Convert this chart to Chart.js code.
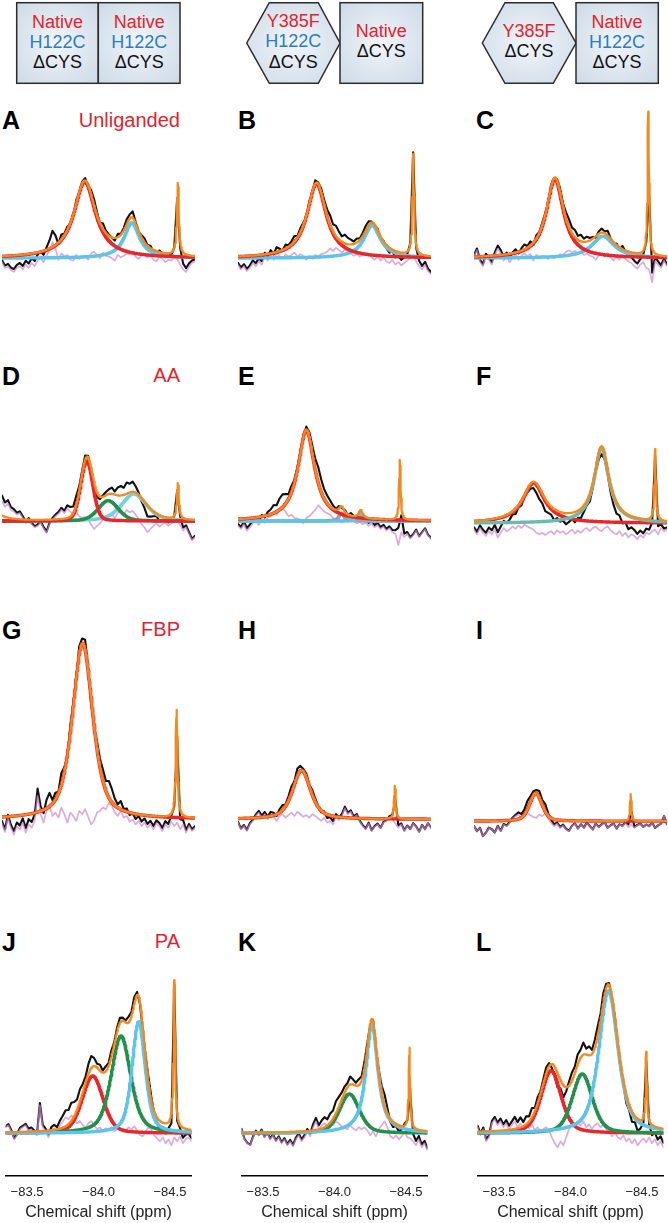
<!DOCTYPE html>
<html><head><meta charset="utf-8">
<script src="https://cdn.jsdelivr.net/npm/chart.js@4.4.1/dist/chart.umd.min.js"></script>
<style>
html,body{margin:0;padding:0;background:#fff;width:668px;height:1223px;overflow:hidden;position:relative;font-family:"Liberation Sans",Arial,Helvetica,sans-serif;}
canvas{position:absolute;}
#overlay{position:absolute;left:0;top:0;}
</style></head><body>
<svg id="overlay" width="668" height="1223" xmlns="http://www.w3.org/2000/svg">
<defs>
<radialGradient id="gb" cx="50%" cy="50%" r="65%">
<stop offset="0%" stop-color="#f1f5f9"/><stop offset="100%" stop-color="#cfdce8"/>
</radialGradient>
</defs>
<g stroke="#2b2b2b" stroke-width="1.5" fill="url(#gb)">
<rect x="16.7" y="2.7" width="81.6" height="80.6"/>
<rect x="98.3" y="2.7" width="81.7" height="80.6"/>
<polygon points="246.7,43 269.3,2.7 318.3,2.7 340,43 318.3,83.3 269.3,83.3"/>
<rect x="340" y="2.7" width="82.7" height="80.6"/>
<polygon points="482.3,43 505,2.7 553.3,2.7 576,43 553.3,83.3 505,83.3"/>
<rect x="576" y="2.7" width="82.3" height="80.6"/>
</g>
<g font-family="Liberation Sans, Arial, sans-serif" font-size="18" text-anchor="middle">
<text x="57.5" y="28" fill="#e2232c">Native</text>
<text x="57.5" y="48" fill="#2a7cc4">H122C</text>
<text x="57.5" y="67.5" fill="#111">ΔCYS</text>
<text x="139.2" y="28" fill="#e2232c">Native</text>
<text x="139.2" y="48" fill="#2a7cc4">H122C</text>
<text x="139.2" y="67.5" fill="#111">ΔCYS</text>
<text x="293.3" y="26.5" fill="#e2232c">Y385F</text>
<text x="293.3" y="47" fill="#2a7cc4">H122C</text>
<text x="293.3" y="67.5" fill="#111">ΔCYS</text>
<text x="381.3" y="36.5" fill="#e2232c">Native</text>
<text x="381.3" y="57" fill="#111">ΔCYS</text>
<text x="529" y="37" fill="#e2232c">Y385F</text>
<text x="529" y="57" fill="#111">ΔCYS</text>
<text x="617" y="28" fill="#e2232c">Native</text>
<text x="617" y="48" fill="#2a7cc4">H122C</text>
<text x="617" y="67.5" fill="#111">ΔCYS</text>
</g>
<g id="labels" font-family="Liberation Sans, Arial, sans-serif"></g>
</svg>
<script>
// ---------------- DATA ----------------
const panelLetters = ['A','B','C','D','E','F','G','H','I','J','K','L'];
const ligandLabels = ['Unliganded','AA','FBP','PA'];
const xTickValues = [-83.5, -84.0, -84.5];
const xTickLabels = ['\u221283.5', '\u221284.0', '\u221284.5'];
const xAxisTitle = 'Chemical shift (ppm)';
const ppmRange = [-83.35, -84.65];
const residualStep = 0.02;

// fitted components: [name, centre (ppm), height, half-width (ppm), lorentzian fraction]
const A_fit = [['blue',-84.224,44,0.062,1],['red',-83.907,95,0.088,1]];
const B_fit = [['blue',-84.253,40.7,0.068,1],['red',-83.879,92.7,0.078,1]];
const C_fit = [['blue',-84.218,27.4,0.09,1],['red',-83.895,98.4,0.07,1]];
const D_fit = [['hidden',-83.25,33,0.05,1],['teal',-84.238,34,0.1,0.5],['green',-84.065,25.6,0.08,0.3],['red',-83.921,75.6,0.048,0.2]];
const E_fit = [['grey',-84.047,10,0.02,1],['blue',-84.176,10,0.015,1],['red',-83.81,114.6,0.068,1]];
const F_fit = [['red',-83.751,50.6,0.088,1],['sea',-84.209,95,0.06,1]];
const G_fit = [['red',-83.893,210,0.082,0.6]];
const H_fit = [['red',-83.778,58.4,0.072,0.6]];
const I_fit = [['red',-83.766,33.4,0.05,0.4]];
const J_fit = [['red',-83.959,57.3,0.086,0.3],['green',-84.157,97.3,0.081,0.5],['blue',-84.281,111.6,0.055,0.5]];
const K_fit = [['green',-84.104,39.3,0.082,0.4],['blue',-84.262,109.3,0.05,0.9]];
const L_fit = [['red',-83.864,62.6,0.083,0.4],['green',-84.082,59.3,0.083,0.4],['blue',-84.266,142.6,0.08,0.6]];

// sharp reference line: [centre (ppm), height, half-width (ppm)]
const A_ref = [-84.534,90,0.008];
const B_ref = [-84.53,126,0.007];
const C_ref = [-84.524,179,0.006];
const D_ref = [-84.534,45.6,0.008];
const E_ref = [-84.44,75.6,0.006];
const F_ref = [-84.57,90,0.006];
const G_ref = [-84.526,128.4,0.007];
const H_ref = [-84.406,39.4,0.006];
const I_ref = [-84.405,32.4,0.005];
const J_ref = [-84.53,148,0.007];
const K_ref = [-84.524,81.6,0.006];
const L_ref = [-84.53,73,0.006];

// residuals (data - fit), every 0.02 ppm from -83.35 ppm
const A_res = [-5,-12,-10,-15,-17,-12,-10,-14,-8,-12,-6,-10,-3,0,-5,3,10,20,12,-2,6,2,4,-2,-3,4,-1,2,3,-2,6,8,4,0,7,3,2,0,-3,4,1,3,6,5,8,2,-1,3,5,1,3,-2,-4,2,-1,-5,-2,-3,0,-1,-8,-14,-17,-10,-6,-4];
const B_res = [-8,-14,-10,-16,-12,-6,-10,-4,-8,2,-3,4,-2,6,3,-1,5,2,4,7,2,5,3,-2,3,-1,4,2,5,6,8,12,9,13,10,7,11,8,6,3,5,2,4,6,5,1,-2,2,-3,1,-4,-6,-2,-8,-5,-9,-6,-3,0,2,-4,-10,-14,-8,-16,-20];
const C_res = [2,10,-4,-10,3,-2,-8,4,12,6,-3,2,-5,1,4,-2,3,6,2,5,-3,4,1,3,2,-1,3,0,2,5,4,8,10,7,9,5,8,4,6,3,2,-2,3,5,2,6,1,-3,2,-2,4,-1,-4,-6,-10,-13,-8,-5,-12,-14,-30,-4,-8,-12,-3,-10];
const D_res = [25,18,22,14,12,8,10,4,-3,2,-4,-8,-6,-2,-9,-15,-4,2,6,9,14,10,16,12,8,11,6,4,5,2,-4,-10,-6,-3,2,4,6,8,4,10,12,9,14,11,13,8,3,-4,-8,-14,-10,-6,-3,-7,-4,-2,-6,-3,-1,0,-5,-12,-8,-16,-24,-20];
const E_res = [-6,-10,-4,-12,-8,-3,0,-5,2,-2,4,6,10,8,14,16,12,6,8,4,3,2,-3,4,6,10,14,20,16,12,10,8,4,1,3,-2,2,-1,3,0,-3,-1,-4,-2,-6,-3,-8,-5,-10,-7,-12,-9,-14,-16,-30,-14,-20,-16,-22,-18,-12,-20,-15,-10,-18,-22];
const F_res = [-8,-14,-6,-12,-16,-10,-14,-8,-18,-12,-6,-10,-8,-4,-7,-3,-6,-2,-4,-6,-8,-12,-14,-12,-15,-12,-10,-14,-9,-12,-10,-14,-11,-8,-13,-9,-12,-8,-6,-10,-6,-4,-8,-10,-6,-4,-9,-12,-14,-10,-16,-12,-18,-14,-16,-20,-15,-18,-12,-14,-10,-8,-14,-6,-10,-8];
const G_res = [-5,-15,2,-10,-18,-8,-12,-4,-16,-6,-10,-2,28,6,-4,10,16,4,8,2,14,6,-4,8,4,-2,10,6,12,3,-6,-2,8,10,14,12,20,16,8,4,10,2,4,-3,0,-6,-2,-8,-4,-10,-6,-12,-5,-8,-14,-6,-10,-3,-8,-4,-12,-6,-16,-8,-14,-10];
const H_res = [-4,-12,-8,-14,-6,-2,4,8,2,6,0,5,3,-2,4,6,2,5,8,4,9,6,3,5,2,6,4,1,-2,2,-4,-2,-6,3,-1,4,13,6,9,2,5,-3,-8,-12,-5,-14,-9,-6,-11,-4,-2,2,0,-5,-10,-6,-14,-8,-12,-5,-9,-15,-7,-12,-5,-10];
const I_res = [-6,-12,-8,-18,-14,-8,-10,-14,-6,-12,-4,-6,-2,3,6,8,4,6,10,7,5,4,8,6,9,3,-2,-6,-3,-8,-5,-10,-12,-6,-3,-9,-4,-8,-2,-6,-10,-3,-7,-4,-1,-8,-5,-3,-9,-4,-6,-2,-7,-4,-8,-5,-3,-7,-4,-6,-2,-8,-5,-3,6,-4];
const J_res = [6,8,2,-6,-2,4,6,8,3,4,1,-2,28,6,2,-4,3,5,2,8,12,16,14,18,14,10,12,8,6,10,12,8,4,6,2,5,3,6,2,4,5,3,2,6,4,7,3,-2,-3,2,6,4,-2,-5,-8,-4,-10,-6,-12,-4,-8,-3,-10,-6,-4,-8];
const K_res = [4,-6,-10,-12,-4,2,-2,3,-4,0,-6,-2,-8,-4,-10,-6,-12,-8,-13,-6,-2,-8,-4,2,-3,6,12,4,8,10,6,9,8,12,10,7,6,4,8,5,3,6,4,6,3,-2,2,-3,4,8,12,6,-3,-5,-2,-6,-3,2,-4,-5,-8,-12,-6,-14,-10,-17];
const L_res = [6,-2,4,-8,-4,10,14,8,12,6,10,4,8,12,6,10,4,8,5,9,3,6,2,4,6,3,-4,-10,-14,-8,-12,-4,4,8,6,10,8,12,6,9,4,8,10,6,9,4,2,-3,2,-4,-6,-2,-8,-5,-10,-6,-12,-8,-5,-9,-4,-10,-6,-12,-8,-14];

// ---------------- STYLE / LAYOUT ----------------
const COLORS = {red:'#e8262b', green:'#23904b', blue:'#5ec4ec', teal:'#6fd2e4', sea:'#6cb9b2', grey:'#a0a0a0', hidden:null};
const ORANGE = '#f5891f';
const PINK = 'rgba(205,135,205,0.7)';
const colLeft = [2, 238, 474];
const rows = [
  {top:100, h:240, area:240, base:196.7, letterY:129, labelY:127},
  {top:380, h:230, area:230, base:177.3, letterY:385, labelY:382},
  {top:600, h:290, area:290, base:261.7, letterY:639, labelY:636},
  {top:940, h:283, area:236, base:193.3, letterY:951, labelY:948}
];
const fits = [A_fit,B_fit,C_fit,D_fit,E_fit,F_fit,G_fit,H_fit,I_fit,J_fit,K_fit,L_fit];
const refs = [A_ref,B_ref,C_ref,D_ref,E_ref,F_ref,G_ref,H_ref,I_ref,J_ref,K_ref,L_ref];
const resids = [A_res,B_res,C_res,D_res,E_res,F_res,G_res,H_res,I_res,J_res,K_res,L_res];
const baseAdjust = {5:2.7, 8:2.3};

// labels
const lg = document.getElementById('labels');
const NS = 'http://www.w3.org/2000/svg';
panelLetters.forEach((t,i)=>{
  const r = rows[Math.floor(i/3)], c = i%3;
  const el = document.createElementNS(NS,'text');
  el.setAttribute('x', colLeft[c] + (c===2?2:0)); el.setAttribute('y', r.letterY);
  el.setAttribute('font-size','25'); el.setAttribute('font-weight','bold'); el.setAttribute('fill','#000');
  el.textContent = t; lg.appendChild(el);
});
ligandLabels.forEach((t,i)=>{
  const el = document.createElementNS(NS,'text');
  el.setAttribute('x', 180); el.setAttribute('y', rows[i].labelY);
  el.setAttribute('font-size','20'); el.setAttribute('text-anchor','end'); el.setAttribute('fill','#e3232c');
  el.textContent = t; lg.appendChild(el);
});

Chart.defaults.font.family = '"Liberation Sans", Arial, Helvetica, sans-serif';
Chart.defaults.animation = false;

function pv(x, c){ const d=(x-c[1])/c[3]; return c[2]*(c[4]/(1+d*d) + (1-c[4])*Math.exp(-Math.LN2*d*d)); }
function lor(x, r){ const d=(x-r[0])/r[2]; return r[1]/(1+d*d); }

for (let i=0;i<12;i++){
  const r = rows[Math.floor(i/3)], c = i%3, bottom = Math.floor(i/3)===3;
  const base = r.base + (baseAdjust[i]||0);
  const cv = document.createElement('canvas');
  cv.width = 193; cv.height = r.h;
  cv.style.left = colLeft[c]+'px'; cv.style.top = r.top+'px';
  cv.style.width = '193px'; cv.style.height = r.h+'px';
  document.body.appendChild(cv);
  const fit = fits[i], ref = refs[i], res = resids[i];
  const fine = [];
  for (let k=0;k<=650;k++) fine.push(ppmRange[0] - k*0.002);
  fine.push(ref[0]); fine.sort((a,b)=>b-a);
  const total = x => fit.reduce((s,cc)=>s+pv(x,cc),0) + lor(x,ref);
  const ds = [];
  ds.push({data: fine.map(x=>({x, y: total(x)})), borderColor: ORANGE, borderWidth: 2.2, order: 0});
  fit.forEach((cc,k)=>{
    const col = COLORS[cc[0]];
    if (col) ds.push({data: fine.map(x=>({x, y: pv(x,cc)})), borderColor: col, borderWidth: 3.4, order: 10-k});
  });
  const rx = res.map((v,k)=> ppmRange[0] - k*residualStep);
  ds.push({data: res.map((v,k)=>({x: rx[k], y: v})), borderColor: PINK, borderWidth: 1.7, order: 20});
  ds.push({data: res.map((v,k)=>({x: rx[k], y: total(rx[k]) + v})), borderColor: '#111', borderWidth: 2.1, order: 30});
  ds.forEach(d=>{ d.pointRadius=0; d.tension=0; d.fill=false; d.borderJoinStyle='round'; d.borderCapStyle='round'; });
  new Chart(cv, {
    type:'line',
    data:{datasets: ds},
    options:{
      responsive:false, devicePixelRatio:1, events:[],
      layout:{padding:0},
      plugins:{legend:{display:false}, tooltip:{enabled:false}},
      scales:{
        x:{type:'linear', reverse:true, min:ppmRange[1], max:ppmRange[0], display: bottom,
           afterBuildTicks: s => { s.ticks = xTickValues.map(v=>({value:v})); },
           afterFit: s => { s.height = 47; },
           ticks:{callback:(v,k)=>xTickLabels[k], font:{size:13}, color:'#222', padding:9, maxRotation:0, autoSkip:false},
           grid:{display:false, drawOnChartArea:false, drawTicks:false},
           border:{display:true, color:'#000', width:1.5},
           title:{display:true, text:xAxisTitle, font:{size:16}, color:'#222', padding:{top:0,bottom:1}}
        },
        y:{display:false, min: base - r.area, max: base}
      }
    }
  });
}
</script>
</body></html>
